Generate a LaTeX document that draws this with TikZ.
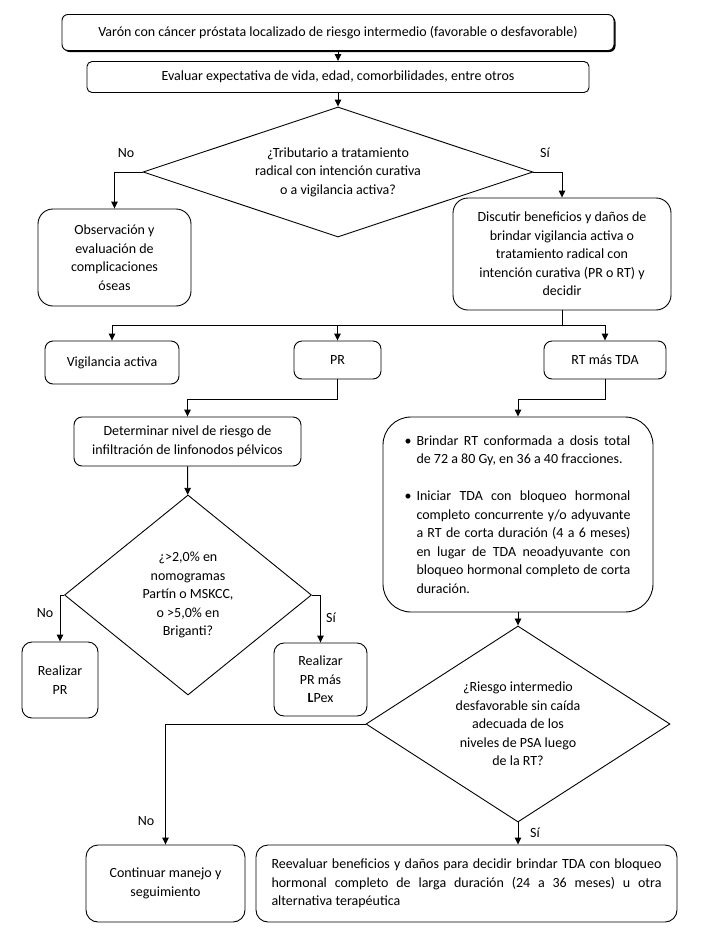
\documentclass[tikz,border=0pt]{standalone}
\usepackage{fontspec}
\setmainfont{Carlito}
\usepackage{tikz}
\usetikzlibrary{shapes.geometric, arrows.meta, shadows}
\setlength{\parindent}{0pt}

\begin{document}
\begin{tikzpicture}[x=1pt, y=-1pt, font=\fontsize{14}{18.5}\selectfont]

% Defined styles
\tikzstyle{startstop} = [rectangle, rounded corners=6pt, inner sep=2pt, align=center, draw=black, line width=0.9pt, fill=white]
\tikzstyle{process} = [rectangle, rounded corners=8pt, inner sep=2pt, align=center, draw=black, line width=0.9pt, fill=white]
\tikzstyle{decision} = [diamond, inner sep=0pt, align=center, draw=black, line width=0.9pt]
\tikzstyle{arrow} = [line width=0.9pt,->,>={Triangle[length=7pt,width=6.5pt]}]
\tikzstyle{line} = [line width=0.9pt]

\useasboundingbox (0,0) rectangle (708,938);

% --- Top ---
\node (in1) [startstop, minimum width=552pt, minimum height=36pt,
  drop shadow={shadow xshift=1.5pt, shadow yshift=-1.5pt, fill=black, opacity=1}]
  at (338,32.5) {Varón con cáncer próstata localizado de riesgo intermedio (favorable o desfavorable)};
\node (pro1) [startstop, rounded corners=5pt, minimum width=502pt, minimum height=31pt] at (338,77)
  {Evaluar expectativa de vida, edad, comorbilidades, entre otros};
\node (dec1) [decision, aspect=3, minimum width=390pt, minimum height=130pt] at (338,172)
  {¿Tributario a tratamiento\\radical con intención curativa\\o a vigilancia activa?};

% --- First split ---
\node (out1) [process, rounded corners=15pt, minimum width=153pt, minimum height=97pt] at (114.5,257.5)
  {Observación y\\evaluación de\\complicaciones\\óseas};
\node (pro2) [process, rounded corners=15pt, minimum width=218pt, minimum height=112pt] at (562,254)
  {Discutir beneficios y daños de\\brindar vigilancia activa o\\tratamiento radical con\\intención curativa (PR o RT) y\\decidir};

% --- Three options ---
\node (pro3) [process, minimum width=134pt, minimum height=43pt] at (112,362.5) {Vigilancia activa};
\node (pro4) [process, minimum width=87pt, minimum height=38pt] at (337.5,360) {PR};
\node (pro5) [process, minimum width=122pt, minimum height=38pt] at (605,360) {RT más TDA};

% --- PR branch ---
\node (pro6) [process, minimum width=227pt, minimum height=49pt] at (187.5,441.5)
  {Determinar nivel de riesgo de\\infiltración de linfonodos pélvicos};
\node (dec2) [decision, aspect=1.235, minimum width=247pt, minimum height=200pt] at (188,595)
  {¿>2,0\% en\\nomogramas\\Partín o MSKCC,\\o >5,0\% en\\Briganti?};
\node (out2) [process, rounded corners=10pt, minimum width=76pt, minimum height=76pt] at (60,680)
  {Realizar\\PR};
\node (out3) [process, rounded corners=10pt, minimum width=93pt, minimum height=73pt] at (320.5,679.5)
  {Realizar\\PR más\\\textbf{L}Pex};

% --- RT branch ---
\node (pro7) [process, rounded corners=28pt, minimum width=270pt, minimum height=195pt,
  text width=225pt, align=justify] at (518,514.5)
  {\leftskip=11pt
   \leavevmode\llap{\textbullet\hspace{5pt}}Brindar RT conformada a dosis total\linebreak
   de 72 a 80 Gy, en 36 a 40 fracciones.\par\vspace{18.5pt}
   \leavevmode\llap{\textbullet\hspace{5pt}}Iniciar TDA con bloqueo hormonal\linebreak
   completo concurrente y/o adyuvante\linebreak
   a RT de corta duración (4 a 6 meses)\linebreak
   en lugar de TDA neoadyuvante con\linebreak
   bloqueo hormonal completo de corta\linebreak
   duración.\par};
\node (dec3) [decision, aspect=1.55, minimum width=304pt, minimum height=196pt] at (518,724)
  {¿Riesgo intermedio\\desfavorable sin caída\\adecuada de los\\niveles de PSA luego\\de la RT?};

% --- Bottom ---
\node (out4) [process, rounded corners=12pt, minimum width=159pt, minimum height=77pt] at (165.5,883.5)
  {Continuar manejo y\\seguimiento};
\node (out5) [process, rounded corners=12pt, minimum width=421pt, minimum height=77pt,
  text width=390pt, align=justify] at (466.5,883.5)
  {Reevaluar beneficios y daños para decidir brindar TDA con bloqueo\linebreak
   hormonal completo de larga duración (24 a 36 meses) u otra\linebreak
   alternativa terapéutica};

% --- Yes / No labels ---
\node (no1) at (126,153) {No};
\node (si1) at (545,153) {Sí};
\node (no2) at (45,613) {No};
\node (si2) at (331,618) {Sí};
\node (no3) at (146,821) {No};
\node (si3) at (535,833) {Sí};

% --- Arrows ---
\coordinate (j1) at (562,325);
\draw [arrow] (in1) -- (pro1);
\draw [arrow] (pro1) -- (dec1);
\draw [arrow] (dec1.west) -| (out1.north);
\draw [arrow] (dec1.east) -| (pro2.north);
\draw [line] (pro2.south) -- (j1);
\draw [arrow] (j1) -| (pro3.north);
\draw [arrow] (j1) -| (pro4.north);
\draw [arrow] (j1) -| (pro5.north);
\draw [arrow] (pro4.south) -- ++(0,20) -| (pro6.north);
\draw [arrow] (pro5.south) -- ++(0,20) -| (pro7.north);
\draw [arrow] (pro6) -- (dec2);
\draw [arrow] (dec2.west) -| (out2.north);
\draw [arrow] (dec2.east) -| (out3.north);
\draw [arrow] (pro7) -- (dec3);
\draw [arrow] (dec3.west) -| (out4.north);
\draw [arrow] (dec3.south) -- (dec3.south |- out5.north);

\end{tikzpicture}
\end{document}
